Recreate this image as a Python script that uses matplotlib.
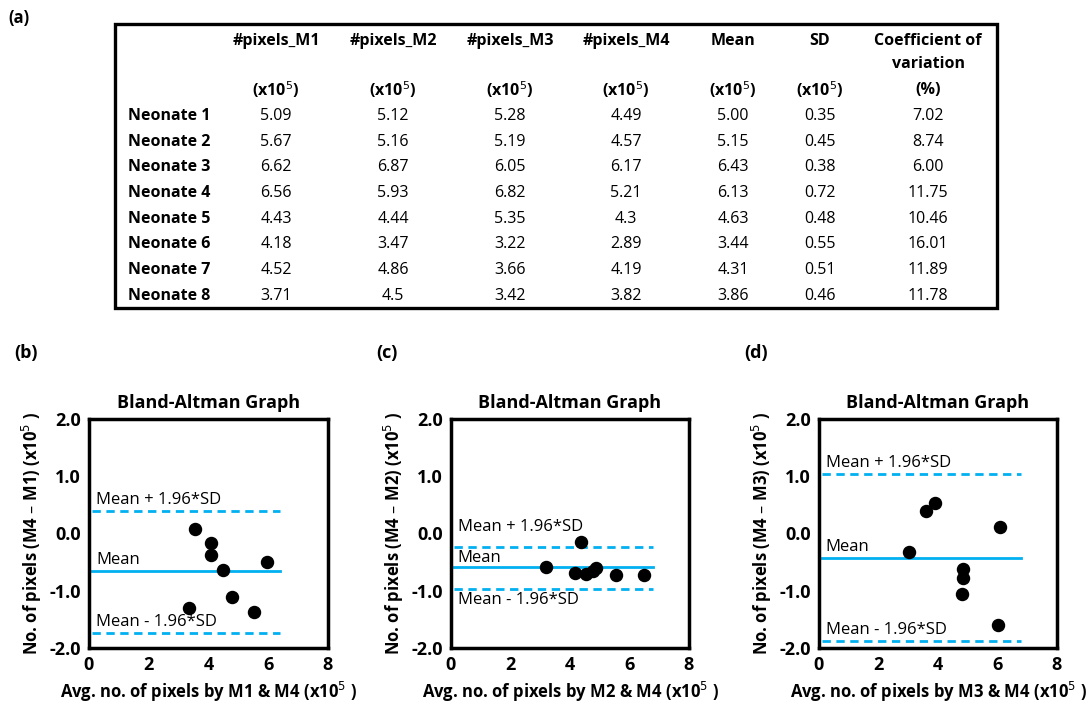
import matplotlib.pyplot as plt
from matplotlib import font_manager
from matplotlib.patches import Rectangle

# pick a narrow face for the table if one is installed
installed = {f.name for f in font_manager.fontManager.ttflist}
table_font = 'Liberation Sans Narrow' if 'Liberation Sans Narrow' in installed else 'Open Sans'
plt.rcParams['font.family'] = ['Open Sans', 'DejaVu Sans']

# ---- table (a) ----
col_heads = ['#pixels_M1', '#pixels_M2', '#pixels_M3', '#pixels_M4', 'Mean', 'SD', 'Coefficient of']
col_units = ['(x10$^5$)'] * 6 + ['(%)']
rows = ['Neonate 1', 'Neonate 2', 'Neonate 3', 'Neonate 4',
        'Neonate 5', 'Neonate 6', 'Neonate 7', 'Neonate 8']
m1 = ['5.09', '5.67', '6.62', '6.56', '4.43', '4.18', '4.52', '3.71']
m2 = ['5.12', '5.16', '6.87', '5.93', '4.44', '3.47', '4.86', '4.5']
m3 = ['5.28', '5.19', '6.05', '6.82', '5.35', '3.22', '3.66', '3.42']
m4 = ['4.49', '4.57', '6.17', '5.21', '4.3', '2.89', '4.19', '3.82']
mean_px = ['5.00', '5.15', '6.43', '6.13', '4.63', '3.44', '4.31', '3.86']
sd_px = ['0.35', '0.45', '0.38', '0.72', '0.48', '0.55', '0.51', '0.46']
cov = ['7.02', '8.74', '6.00', '11.75', '10.46', '16.01', '11.89', '11.78']

# ---- Bland-Altman panels ----
avg_b = [3.34, 3.54, 4.09, 4.07, 4.47, 4.78, 5.51, 5.96]
diff_b = [-1.31, 0.07, -0.16, -0.37, -0.63, -1.11, -1.37, -0.49]
lines_b = (-0.66, 0.39, -1.73)  # mean, mean+1.96SD, mean-1.96SD

avg_c = [3.20, 4.17, 4.36, 4.54, 4.78, 4.89, 5.56, 6.48]
diff_c = [-0.59, -0.69, -0.15, -0.70, -0.66, -0.60, -0.73, -0.72]
lines_c = (-0.59, -0.23, -0.97)

avg_d = [3.01, 3.61, 3.90, 4.85, 4.85, 4.82, 6.10, 6.00]
diff_d = [-0.33, 0.40, 0.53, -0.62, -0.78, -1.05, 0.11, -1.60]
lines_d = (-0.42, 1.04, -1.87)

W, H = 1089, 709
fig = plt.figure(figsize=(W / 100, H / 100), dpi=100)

# table drawn in a full-figure axes using pixel coordinates
tab = fig.add_axes([0, 0, 1, 1])
tab.set_xlim(0, W)
tab.set_ylim(H, 0)
tab.axis('off')
tab.add_patch(Rectangle((115, 24), 882, 284, fill=False, lw=2.4, ec='black'))
tab.text(8, 18, '(a)', fontsize=12, fontweight='bold', family=table_font, va='center')

col_x = [276, 393, 510, 626, 733, 820, 928]
for x, h, u in zip(col_x, col_heads, col_units):
    tab.text(x, 41, h, ha='center', va='center', fontsize=11.5, fontweight='bold', family=table_font)
    tab.text(x, 90, u, ha='center', va='center', fontsize=11.5, fontweight='bold', family=table_font)
tab.text(col_x[-1], 64, 'variation', ha='center', va='center', fontsize=11.5,
         fontweight='bold', family=table_font)

cols = [m1, m2, m3, m4, mean_px, sd_px, cov]
for i, name in enumerate(rows):
    y = 116 + i * 25.7
    tab.text(128, y, name, va='center', fontsize=11.5, fontweight='bold', family=table_font)
    for x, col in zip(col_x, cols):
        tab.text(x, y, col[i], ha='center', va='center', fontsize=11.5, family=table_font)

blue = '#00b0f0'
# tag, pixel span, method, x, y, line levels, label x, gaps of the three labels
panels = [
    ('(b)', [89, 328], 'M1', avg_b, diff_b, lines_b, 0.25, (0.05, 0.05, 0.05)),
    ('(c)', [451, 689], 'M2', avg_c, diff_c, lines_c, 0.22, (0.2, 0.02, -0.06)),
    ('(d)', [819, 1057], 'M3', avg_d, diff_d, lines_d, 0.22, (0.05, 0.05, 0.05)),
]
top, bottom = 419, 648
for tag, (l, r), m, xs, ys, (mu, hi, lo), tx, (g_hi, g_mu, g_lo) in panels:
    ax = fig.add_axes([l / W, 1 - bottom / H, (r - l) / W, (bottom - top) / H])
    x_end = 6.4 if m == 'M1' else 6.8
    ax.plot([0.1, x_end], [mu, mu], color=blue, lw=2)
    ax.plot([0.1, x_end], [hi, hi], color=blue, lw=2, ls=(0, (3, 2)))
    ax.plot([0.1, x_end], [lo, lo], color=blue, lw=2, ls=(0, (3, 2)))
    ax.scatter(xs, ys, s=75, color='black', zorder=3)
    kw = dict(fontsize=12, fontweight='medium')
    ax.text(tx, hi + g_hi, 'Mean + 1.96*SD', va='bottom', **kw)
    ax.text(tx, mu + g_mu, 'Mean', va='bottom', **kw)
    ax.text(tx, lo + g_lo, 'Mean - 1.96*SD', va='top' if g_lo < 0 else 'bottom', **kw)
    ax.set_xlim(0, 8)
    ax.set_ylim(-2, 2)
    ax.set_xticks([0, 2, 4, 6, 8])
    ax.set_yticks([-2, -1, 0, 1, 2])
    ax.set_yticklabels(['-2.0', '-1.0', '0.0', '1.0', '2.0'])
    ax.tick_params(length=0, labelsize=13, pad=6)
    for lab in ax.get_xticklabels() + ax.get_yticklabels():
        lab.set_fontweight('bold')
    for s in ax.spines.values():
        s.set_linewidth(2.5)
    ax.set_title('Bland-Altman Graph', fontsize=13, fontweight='bold', pad=8)
    ax.set_xlabel(f'Avg. no. of pixels by {m} & M4 (x10$^5$ )', fontsize=12,
                  fontweight='bold', labelpad=4)
    ax.set_ylabel(f'No. of pixels (M4 – {m}) (x10$^5$ )', fontsize=12,
                  fontweight='bold', labelpad=4)
    fig.text((l - 75) / W, 1 - 353 / H, tag, fontsize=13, fontweight='bold', va='center')

fig.savefig('out.png', dpi=100)
